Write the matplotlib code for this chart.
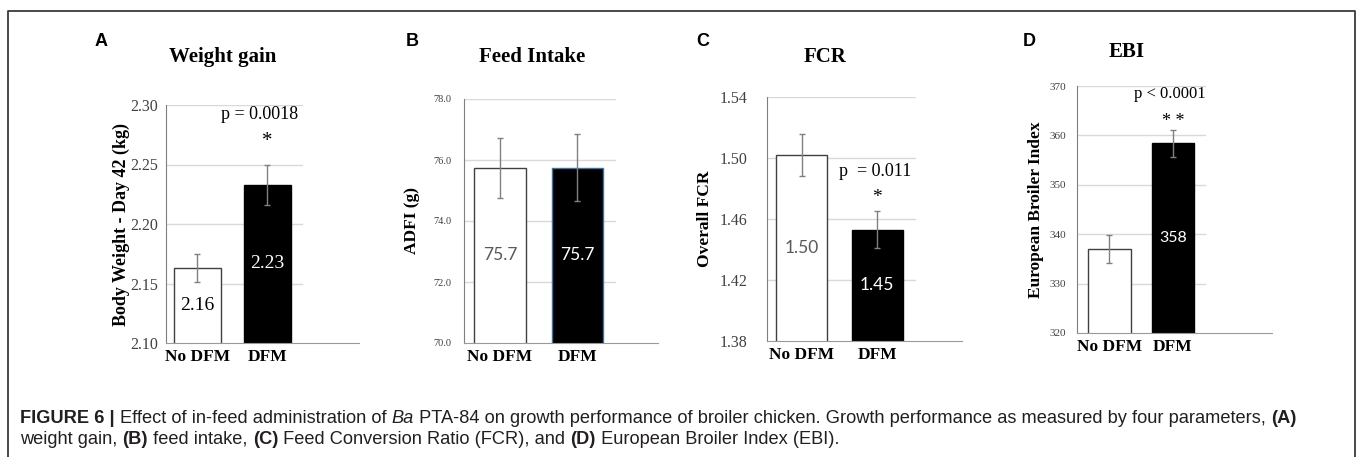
import matplotlib
matplotlib.use("Agg")
import matplotlib.pyplot as plt
from matplotlib.lines import Line2D

W, H = 1360, 457
SERIF = "Liberation Serif"
SANS = "Liberation Sans"
CALIBRI = "Lato"

groups = ["No DFM", "DFM"]

wg_mean = [2.163, 2.233]
wg_err = [0.012, 0.017]
wg_ticks = [2.10, 2.15, 2.20, 2.25, 2.30]

fi_mean = [75.74, 75.75]
fi_err = [0.97, 1.10]
fi_ticks = [70.0, 72.0, 74.0, 76.0, 78.0]

fcr_mean = [1.502, 1.453]
fcr_err = [0.014, 0.012]
fcr_ticks = [1.38, 1.42, 1.46, 1.50, 1.54]

ebi_mean = [337.0, 358.4]
ebi_err = [2.8, 2.7]
ebi_ticks = [320, 330, 340, 350, 360, 370]

fig = plt.figure(figsize=(W / 100, H / 100), dpi=100)


def px_axes(left, top, right, bottom):
    """axes from pixel box of the reference image"""
    return fig.add_axes([left / W, 1 - bottom / H, (right - left) / W, (bottom - top) / H])


def fig_text(x, y, s, **kw):
    return fig.text(x / W, 1 - y / H, s, **kw)


def draw_panel(ax, means, errs, ticks, fmt, xlim, grid_end, tick_size, tick_pad,
               edges=("#404040", "black")):
    ax.set_ylim(ticks[0], ticks[-1])
    ax.set_xlim(*xlim)
    for t in ticks[1:]:
        ax.axhline(t, xmin=0, xmax=grid_end, color="#d9d9d9", lw=1, zorder=0)
    x = range(len(means))
    ax.bar(x, means, width=0.67, color=["white", "black"], edgecolor=list(edges),
           linewidth=1, zorder=2)
    ax.errorbar(x, means, yerr=errs, fmt="none", ecolor="#808080", elinewidth=1,
                capsize=2.5, capthick=1, zorder=3)
    ax.set_yticks(ticks)
    ax.set_yticklabels([fmt.format(t) for t in ticks], family=SERIF, fontsize=tick_size,
                       color="#404040")
    ax.set_xticks(list(x))
    ax.set_xticklabels(groups, family=SERIF, fontweight="bold", fontsize=12.5)
    ax.tick_params(axis="y", length=0, pad=tick_pad)
    ax.tick_params(axis="x", length=0, pad=4.5)
    for s in ("top", "right"):
        ax.spines[s].set_visible(False)
    ax.spines["left"].set_color("#7f7f7f")
    ax.spines["bottom"].set_color("#9a9a9a")
    ax.set_facecolor("none")


def bar_labels(ax, means, texts, colors, family, size):
    base = ax.get_ylim()[0]
    for i, (m, s, c) in enumerate(zip(means, texts, colors)):
        if s:
            ax.text(i, (base + m) / 2, s, ha="center", va="center", color=c,
                    family=family, fontsize=size, zorder=4)


# A - weight gain
axA = px_axes(166, 105, 359, 343)
draw_panel(axA, wg_mean, wg_err, wg_ticks, "{:.2f}", (-0.45, 2.31), 0.705, 11.5, 6)
bar_labels(axA, wg_mean, ["2.16", "2.23"], ["black", "white"], SERIF, 14)
star = wg_mean[1] + wg_err[1] + 0.019
axA.text(1, star, "*", ha="center", va="center", family=SERIF, fontsize=15)
axA.text(0.89, star + 0.023, "p = 0.0018", ha="center", va="center", family=SERIF,
         fontsize=13)

# B - feed intake
axB = px_axes(464, 99, 658, 343)
draw_panel(axB, fi_mean, fi_err, fi_ticks, "{:.1f}", (-0.465, 2.04), 0.78, 7.5, 9,
           edges=("#404040", "#41719c"))
bar_labels(axB, fi_mean, ["75.7", "75.7"], ["#595959", "white"], CALIBRI, 12.5)

# C - FCR
axC = px_axes(767, 97, 962, 341)
draw_panel(axC, fcr_mean, fcr_err, fcr_ticks, "{:.2f}", (-0.457, 2.12), 0.76, 11.5, 14)
bar_labels(axC, fcr_mean, ["1.50", "1.45"], ["#595959", "white"], CALIBRI, 12.5)
star = fcr_mean[1] + fcr_err[1] + 0.009
axC.text(1, star, "*", ha="center", va="center", family=SERIF, fontsize=14)
axC.text(0.97, star + 0.017, "p  = 0.011", ha="center", va="center", family=SERIF,
         fontsize=13)

# D - EBI
axD = px_axes(1077, 86, 1272, 333)
draw_panel(axD, ebi_mean, ebi_err, ebi_ticks, "{:.0f}", (-0.51, 2.56), 0.656, 8, 8)
bar_labels(axD, ebi_mean, ["", "358"], ["#595959", "white"], CALIBRI, 11.5)
star = ebi_mean[1] + ebi_err[1] + 1.8
axD.text(1, star, "* *", ha="center", va="center", family=SERIF, fontsize=13)
axD.text(0.95, star + 5.5, "p < 0.0001", ha="center", va="center", family=SERIF,
         fontsize=12)

# panel letters, titles and y labels
for letter, x in zip("ABCD", (101, 412, 703, 1029)):
    fig_text(x, 41, letter, family=SANS, fontweight="bold", fontsize=13, ha="center",
             va="center")
for title, x, y in [("Weight gain", 223, 57), ("Feed Intake", 532, 57),
                    ("FCR", 825, 57), ("EBI", 1127, 52)]:
    fig_text(x, y, title, family=SERIF, fontweight="bold", fontsize=15, ha="center",
             va="center")
for label, x, y, size in [("Body Weight - Day 42 (kg)", 121, 224, 13),
                          ("ADFI (g)", 412, 221, 12.5),
                          ("Overall FCR", 705, 219, 12.5),
                          ("European Broiler Index", 1036, 210, 12.5)]:
    fig_text(x, y, label, family=SERIF, fontweight="bold", fontsize=size, rotation=90,
             ha="center", va="center")

# frame around the figure
fig.add_artist(Line2D([8 / W, 8 / W, 1355 / W, 1355 / W], [0, 1 - 11 / H, 1 - 11 / H, 0],
                      transform=fig.transFigure, color="#3a3a3a", lw=1.3))

# caption
renderer = fig.canvas.get_renderer()
CAP_SIZE = 13.15
CAP_COLOR = "#231f20"


def text_width(s, **kw):
    t = fig.text(0, 0, s + "|", **kw)
    w1 = t.get_window_extent(renderer).width
    t.set_text("|")
    w2 = t.get_window_extent(renderer).width
    t.remove()
    return w1 - w2


def rich_line(x, y, pieces):
    for s, weight, style in pieces:
        kw = dict(family=SANS, fontsize=CAP_SIZE, fontweight=weight, fontstyle=style)
        fig_text(x, y, s, color=CAP_COLOR, va="baseline", **kw)
        x += text_width(s, **kw)


rich_line(20, 423, [
    ("FIGURE 6 | ", "bold", "normal"),
    ("Effect of in-feed administration of ", "normal", "normal"),
    ("Ba", "normal", "italic"),
    (" PTA-84 on growth performance of broiler chicken. Growth performance as measured "
     "by four parameters, ", "normal", "normal"),
    ("(A)", "bold", "normal"),
])
rich_line(20, 444, [
    ("weight gain, ", "normal", "normal"),
    ("(B)", "bold", "normal"),
    (" feed intake, ", "normal", "normal"),
    ("(C)", "bold", "normal"),
    (" Feed Conversion Ratio (FCR), and ", "normal", "normal"),
    ("(D)", "bold", "normal"),
    (" European Broiler Index (EBI).", "normal", "normal"),
])

fig.savefig("out.png", dpi=100)
